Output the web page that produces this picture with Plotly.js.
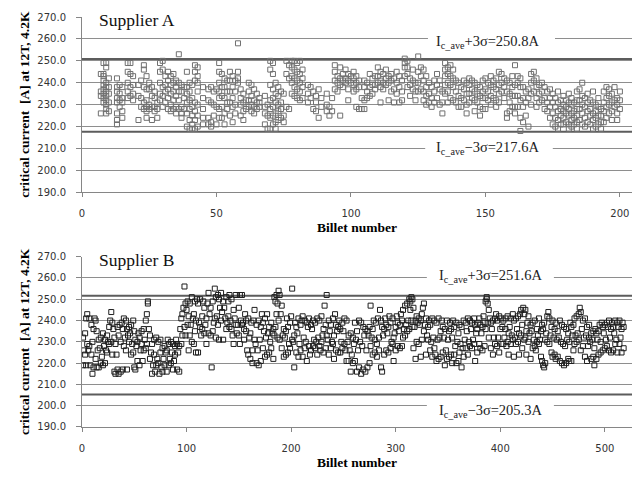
<!DOCTYPE html>
<html>
<head>
<meta charset="utf-8">
<script src="https://cdn.plot.ly/plotly-3.0.1.min.js"></script>
<style>
  html, body { margin: 0; padding: 0; background: #fff; }
  #chart { width: 635px; height: 477px; }
</style>
</head>
<body>
<div id="chart"></div>
<script>
// Critical current readings (A, at 12 T / 4.2 K) per billet.
// Billets are numbered consecutively from the first billet; an empty list means no reading.
const firstBilletA = 7;
const icA = [
  [244,236,234,226],[249,244,243,241,239,237,235,233,231],[249,247,240,238,236,234,232,230,228,226],
  [242,238,235,231,227],[],[],[242,238,236,233,231,226,223,221],[239,235,232,229],[238,233,231,227,224],[],
  [249,245,240,236,233],[249,244,238,234],[243,239,235,232],[],[239,234,223],[241,233,229],
  [248,246,238,231,228],[243,237,232,229,227,224],[240,237,230,228],[238,234,229,223],[236,233,229,227],
  [231,228,224],[249,245,240,235,232],[250,246,238,234,229],[243,239,236,231],[245,241,237,233,228],
  [243,239,235,230,227],[244,240,236,232,228],[241,238,234,229,226],[253,240,236,232,228],
  [239,236,229,226,224],[238,233,228],[245,238,235,231,226,220],[240,236,232,228,223,219],
  [239,233,229,225,221,219],[248,245,241,231,227,223,219],[247,243,240,236,230,225,220],[],
  [238,233,228,224,221],[],[237,232,224,221],[238,231,222,220],[236,230,225],[237,229,221],
  [249,245,240,236,233,228,224],[244,238,234,229,224],[242,238,233,226,221],[241,236,231,228],
  [245,241,236,231,225],[243,238,233,229,222],[241,236,230,226],[258,245,242,240],[237,233,230,225],
  [235,231,227,223],[232,228],[240,236,232,229],[239,234,230,227],[237,232,229,226],[235,231,228],
  [233,231,229],[],[234,229,226,221],[230,225,219],[250,246,239,232,228,224,219],
  [249,244,237,233,229,225,221],[240,235,231,226,222,219],[238,234,230,227,223],[236,231,228,224],
  [235,225,222],[250,244,229],[248,242,228],[250,247,243,240,235],[250,246,242,238,234],
  [249,245,241,237,233],[250,244,240,236,232],[246,242,238,233],[],[239,235,231],[238,233],[236,228],
  [234,231,227],[237,224],[233,229],[],[235,230,227],[229,225],[233,227],[248,245,241,237],
  [243,240,236],[247,242,239,225],[244,241,238],[246,242,240],[244,241,237,232],[243,240],
  [245,242,239,236],[243,240,237,229],[241,238,228],[233,228],[241,238,232,228],[240,236,233],
  [244,238,234],[242,239,235],[243,239,237],[247,243,240],[245,241,238,231],[244,240,237],
  [246,242,239],[243,240,232],[244,241,236],[242,237,231],[245,240,235],[243,238,231],[241,236,232],
  [251,249,247,243],[250,247,244,238],[242,239,234],[246,241,237],[240,236,232],[252,245,240,236],
  [247,243,237],[246,241,236,232],[243,238,234,230],[240,235,231],[238,233,229],[241,236,231],
  [244,239,233],[241,237,230],[236,231,226],[249,246,243,239,235],[247,244,240,236,231],
  [248,243,239,233],[246,242,238,232],[241,236,231],[240,234,229],[238,233,229],[241,237,232],
  [240,235,230,226],[242,239,235,231],[241,237,233],[240,236,232,227],[239,235,231],[238,234,229,225],
  [241,236,233,228],[242,237,233,228],[240,236,232],[243,239,234,230],[241,238,233],[242,237,232,229],
  [245,239,235,231],[244,240,236],[242,238,233],[241,236,226,224],[240,235,231,227],[243,238,234,229],
  [248,239,234,229,226],[243,240,234,229],[242,238,232,224,218],[238,233,229,222],[236,231,225],
  [237,233,220],[244,240,235,230],[245,241,236],[242,238,233,229],[239,235,231],[240,236,232],
  [238,233,228],[236,231,227],[237,233,229,224],[235,231,226,221],[233,229,224,220],
  [236,231,227,223,219],[232,228,225,221],[234,230,227,224,221],[232,229,226,222],
  [235,231,228,225,221,219],[233,230,226,223,220],[231,227,224,221],[236,232,228,225,222,219],
  [237,232,228,223],[240,234,230,226,221],[233,229,224,220],[235,231,227,222],[232,228,225,221],
  [236,231,226,223,219],[230,227,224,220],[233,229,225,221],[228,225,222,219],[236,231,227,222],
  [238,233,229,224],[237,234,230,226],[235,231,227,223],[238,232,229],[233,230,226,223],[236,232,228]
];

const firstBilletB = 1;
const icB = [
  [232,219],[226],[234,224],[241,219],[243,229],[226],[241,228],[219],[238,224],[230,215],
  [236,218],[241],[240,222],[235,218],[226],[231,218],[227],[232,220],[223],[234,219],
  [228],[231,220],[226],[233,225],[230],[237,229],[240],[244,230],[239,224],[236],
  [232,216],[229,215],[224],[237,217],[233,215],[238],[230,216],[239],[236,217],[241,228],
  [232],[240,226],[236,217],[233],[237,230],[234],[238,224],[229],[240,225],[235,218],
  [231,217],[228],[230,221],[234],[232,219],[226],[235,229],[221],[236,226],[231],
  [240,227],[243,229],[249,248],[236],[233,222],[225],[229,215],[219],[231,224],[216],
  [232,219],[222],[230,220],[215],[231,225],[218],[227,216],[222],[228,219],[225],
  [226,216],[231],[229,219],[222],[230,220],[225],[229,217],[221],[228,224],[231],
  [229,217],[225],[228,216],[236],[241,229],[243,233],[246],[256,237],[248,233],[245],
  [249,238],[242,226],[248,233],[238],[251,230],[241],[243,229],[249,235],[240,225],[250],
  [248,225],[239],[250,237],[233],[242,236],[249],[246,234],[238],[241,229],[248],
  [253,234],[243],[246,233],[218],[249,235],[239],[255,241],[251,232],[242],[252,238],
  [250,231],[246],[253,240],[244],[249,231],[246],[241],[251,236],[239],[242,249],
  [252,237],[240],[250,236],[233],[245,229],[241],[252,238],[234],[238],[246,233],
  [252,229],[240],[252,238],[239],[236,231],[243],[240,235],[226],[241,224],[232],
  [234,222],[239],[226,220],[240],[245,231],[229],[238,220],[226],[240,219],[231],
  [237,221],[243],[239,227],[235],[241,223],[232],[243,224],[234],[237,225],[230],
  [239,227],[234],[236,222],[251,233],[249,237],[252,243],[248,232],[254,240],[252,231],[243],
  [247,227],[233],[236,223],[232],[235,224],[241],[237,225],[229],[239,227],[242],
  [255,231],[230],[233,218],[239],[237,225],[234],[241,223],[229],[238,226],[240],
  [242,223],[232],[240,227],[230],[239,221],[237],[241,228],[224],[238,226],[236],
  [240,228],[231],[239,227],[230],[241,224],[232],[240,228],[226],[242,230],[233],
  [236,225],[247],[238,227],[252,233],[231],[240,224],[235],[238,227],[230],[241,229],
  [233,222],[243],[238,226],[235],[237,225],[240],[236,225],[230],[239,227],[235],
  [241,229],[226],[240,221],[230],[233,221],[226],[234,216],[224],[232,220],[229],
  [239,221],[231],[235,216],[226],[240,218],[230],[239,215],[228],[237,217],[233],
  [236,216],[226],[235,218],[233],[237,220],[247,228],[232],[236,224],[240],[231,225],
  [239],[229,223],[241],[232,226],[245],[240,218],[237,216],[233],[236,224],[241],
  [238,226],[234],[237,225],[242],[239,227],[230],[241,229],[232,221],[234],[237,226],
  [242],[239,228],[235],[238,227],[243],[240,228],[245,232],[236],[247,233],[238],
  [248,235],[240],[250,236],[249,245],[251,240],[250,237],[246,227],[237],[240,222],[242,230],
  [239],[241,229],[238],[240,223],[243,231],[246],[248,235],[238],[241,224],[233],
  [237,231],[240],[238,226],[230],[241,223],[232],[240,227],[224],[239,221],[231],
  [241,222],[232],[235,223],[240],[237,225],[232],[236,219],[226],[240,222],[231],
  [235,223],[239],[236,224],[232,220],[240],[237,224],[228],[239,220],[230],[234,221],
  [238,225],[229],[237,218],[227],[240,223],[231],[239,227],[235],[241,224],[230],
  [240,228],[236],[239,227],[231],[241,229],[238,221],[234],[236,225],[239],[241,229],
  [238,227],[234],[237,226],[242],[239,228],[249,236],[251,250],[248,239],[245,232],[241],
  [239,227],[236],[240,224],[232],[241,229],[243],[240,228],[232],[242,225],[236],
  [241,229],[237],[240,229],[232],[241,236],[228],[242,230],[234,224],[237],[241,229],
  [233],[243,231],[240,223],[232],[241,229],[236],[242,230],[234,224],[243],[245,233],
  [238,227],[246],[243,231],[245,232],[235,224],[239],[242,230],[234],[238,222],[235],
  [239,227],[231],[240,228],[226],[236,230],[233],[241,229],[231],[235,223],[238,221],
  [236,219],[239,218],[231,220],[234],[242,230],[244],[241,229],[233],[237,225],[240,223],
  [232],[236,224],[239,222],[231],[235,223],[232],[240,221],[230],[238,220],[229],
  [237,219],[228],[236,220],[231],[234,222],[230,221],[239],[237,221],[233],[238,226],
  [241,229],[233],[242,230],[234],[243,231],[246],[244,226],[236],[240,228],[232],
  [241,223],[233],[237,221],[228],[238,232],[230],[234,222],[231],[235,223],[227,219],
  [236],[234,222],[231],[235,224],[238],[230,225],[239],[237,226],[234],[238,227],
  [231],[239,228],[237],[240,226],[232],[236,225],[239],[237,226],[234],[240,229],
  [231],[239,225],[237],[240,229],[232],[236,225],[239],[237,227]
];

// Control limits printed on the chart (mean ± 3σ).
const limitsA = { upper: 250.8, lower: 217.6 };
const limitsB = { upper: 251.6, lower: 205.3 };
const panelNames = ['Supplier A', 'Supplier B'];
const xTicksA = [0, 50, 100, 150, 200];
const xTicksB = [0, 100, 200, 300, 400, 500];
const yTicks = [190, 200, 210, 220, 230, 240, 250, 260, 270];

function flatten(first, groups) {
  const x = [], y = [];
  groups.forEach((vals, i) => {
    vals.forEach(v => { x.push(first + i); y.push(v); });
  });
  return { x, y };
}

const ptsA = flatten(firstBilletA, icA);
const ptsB = flatten(firstBilletB, icB);

const traces = [
  {
    x: ptsA.x, y: ptsA.y, xaxis: 'x', yaxis: 'y',
    type: 'scatter', mode: 'markers', name: panelNames[0],
    marker: { symbol: 'square-open', size: 5, color: '#707070', line: { width: 1, color: '#707070' } },
    hoverinfo: 'x+y'
  },
  {
    x: ptsB.x, y: ptsB.y, xaxis: 'x2', yaxis: 'y2',
    type: 'scatter', mode: 'markers', name: panelNames[1],
    marker: { symbol: 'square-open', size: 5, color: '#1e1e1e', line: { width: 1, color: '#1e1e1e' } },
    hoverinfo: 'x+y'
  }
];

const tickFont = { family: 'DejaVu Sans', size: 10, color: '#333' };
const titleFont = { family: 'Liberation Serif', size: 13.5, color: '#000' };
const axisGrey = '#868686';
const gridGrey = '#8e8e8e';

function xAxis(ticks, maxX, anchor) {
  return {
    anchor, range: [0, maxX], tickvals: ticks, ticktext: ticks.map(String),
    ticks: 'outside', ticklen: 4, tickcolor: axisGrey, ticklabelstandoff: 8,
    showline: true, linecolor: axisGrey, linewidth: 1,
    showgrid: false, zeroline: false, tickfont: tickFont,
    title: { text: '<b>Billet number</b>', font: titleFont, standoff: 4 }
  };
}
function yAxis(domain, anchor) {
  return {
    anchor, domain, range: [190, 270], tickvals: yTicks, ticktext: yTicks.map(v => v.toFixed(1)),
    ticks: 'outside', ticklen: 5, tickcolor: axisGrey, ticklabelstandoff: 8,
    showline: true, linecolor: axisGrey, linewidth: 1,
    showgrid: true, gridcolor: gridGrey, gridwidth: 1, zeroline: false, tickfont: tickFont,
    title: { text: '<b>critical current  [A] at 12T, 4.2K</b>', font: titleFont, standoff: 4 }
  };
}

function limitLine(xref, yref, v) {
  return { type: 'line', xref: xref + ' domain', yref, x0: 0, x1: 1, y0: v, y1: v,
           line: { color: '#5c5c5c', width: 2 }, layer: 'below' };
}
function mask(xref, yref, x0, x1, y0, y1) {
  return { type: 'rect', xref: xref + ' domain', yref, x0, x1, y0, y1,
           fillcolor: '#ffffff', line: { width: 0 }, layer: 'above' };
}

const labelFont = { family: 'Liberation Serif', size: 14.5, color: '#222' };
const nameFont = { family: 'Liberation Serif', size: 17.5, color: '#111' };
function limitText(sign, v) {
  return 'I<sub>c_ave</sub>' + sign + '3σ=' + v.toFixed(1) + 'A';
}

const layout = {
  width: 635, height: 477,
  margin: { l: 82, r: 3, t: 17, b: 50 },
  paper_bgcolor: '#fff', plot_bgcolor: '#fff',
  showlegend: false,
  xaxis: xAxis(xTicksA, 204.5, 'y'),
  yaxis: yAxis([0.5724, 1], 'x'),
  xaxis2: xAxis(xTicksB, 526, 'y2'),
  yaxis2: yAxis([0, 0.4154], 'x2'),
  shapes: [
    limitLine('x', 'y', limitsA.upper), limitLine('x', 'y', limitsA.lower),
    limitLine('x2', 'y2', limitsB.upper), limitLine('x2', 'y2', limitsB.lower),
    mask('x', 'y domain', 0.009, 0.251, 0.97, 1.01),
    mask('x', 'y', 0.629, 0.860, 257.5, 262),
    mask('x', 'y', 0.624, 0.856, 207.5, 212.5),
    mask('x2', 'y2 domain', 0.009, 0.229, 0.97, 1.01),
    mask('x2', 'y2', 0.627, 0.858, 257.5, 262.5),
    mask('x2', 'y2', 0.627, 0.858, 197.5, 202.5)
  ],
  annotations: [
    { xref: 'x domain', yref: 'y domain', x: 0.027, y: 0.983, xanchor: 'left', yanchor: 'middle',
      text: panelNames[0], showarrow: false, font: nameFont },
    { xref: 'x domain', yref: 'y', x: 0.738, y: 258.6, xanchor: 'center', yanchor: 'middle',
      text: limitText('+', limitsA.upper), showarrow: false, font: labelFont },
    { xref: 'x domain', yref: 'y', x: 0.738, y: 210, xanchor: 'center', yanchor: 'middle',
      text: limitText('−', limitsA.lower), showarrow: false, font: labelFont },
    { xref: 'x2 domain', yref: 'y2 domain', x: 0.027, y: 0.981, xanchor: 'left', yanchor: 'middle',
      text: panelNames[1], showarrow: false, font: nameFont },
    { xref: 'x2 domain', yref: 'y2', x: 0.744, y: 261.1, xanchor: 'center', yanchor: 'middle',
      text: limitText('+', limitsB.upper), showarrow: false, font: labelFont },
    { xref: 'x2 domain', yref: 'y2', x: 0.744, y: 197.6, xanchor: 'center', yanchor: 'middle',
      text: limitText('−', limitsB.lower), showarrow: false, font: labelFont }
  ]
};

Plotly.newPlot('chart', traces, layout, { staticPlot: true, displayModeBar: false });
</script>
</body>
</html>
